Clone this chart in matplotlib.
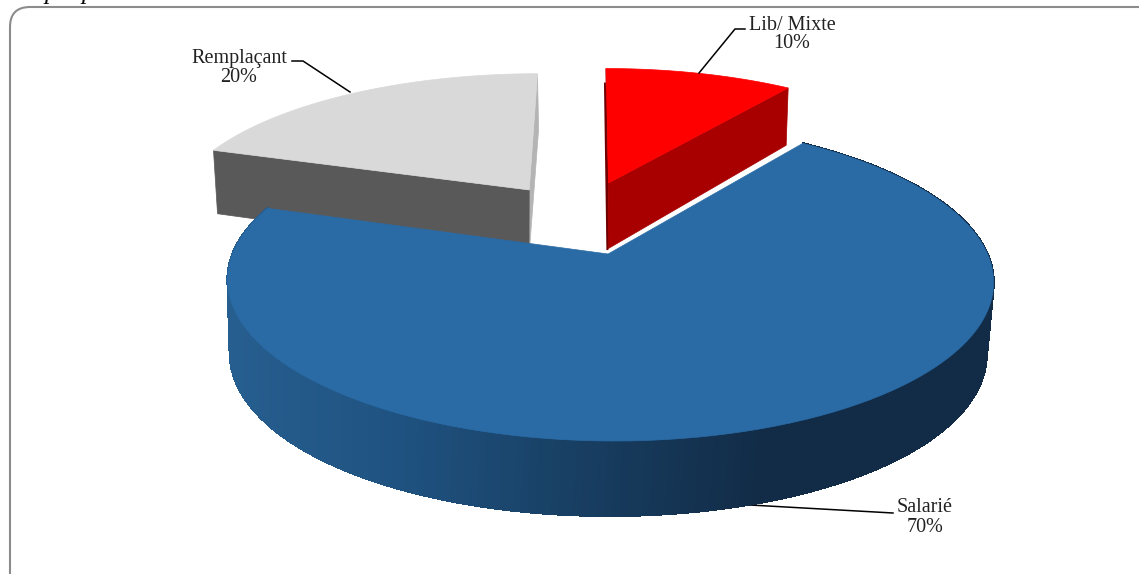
"""3D style exploded pie: statut d'exercice."""

import matplotlib
matplotlib.use("Agg")
import matplotlib.pyplot as plt
import numpy as np
from matplotlib.collections import PolyCollection
from matplotlib.patches import FancyBboxPatch, Polygon

# data
labels = ["Lib/ Mixte", "Salarié", "Remplaçant"]
values = [10, 70, 20]
percent_labels = ["10%", "70%", "20%"]

# style: face colour, outer wall colour, thin inner wall colour
top_colors = ["#FF0000", "#2A6BA6", "#D9D9D9"]
wall_colors = ["#A80000", None, "#595959"]
inner_colors = ["#700000", None, "#B4B4B4"]
explode = [(0.0, 0.495), (0.0, 0.0), (-0.226, 0.443)]

# projection of the unit disc to pixels (top plane, bottom plane)
TOP = dict(x0=610, y0=254, ax=377.5, by=155.4, k=0.169, ky=0.169, shear=-3.4)
LOW = dict(x0=608, y0=324.6, ax=373, by=163.5, k=0.169, ky=0.145, shear=-1.4)


def project(x, y, plane):
    w = 1 + plane["k"] * y
    wy = 1 + plane["ky"] * y
    return np.column_stack([plane["x0"] + (plane["ax"] * x + plane["shear"] * y) / w,
                            plane["y0"] - plane["by"] * y / wy])


def wall_color(px):
    stops_x = [235, 400, 600, 760]
    stops = np.array([[38, 94, 143], [31, 82, 128], [23, 60, 95], [18, 44, 71]]) / 255
    return [float(np.interp(px, stops_x, stops[:, i])) for i in range(3)]


def slice_outline(theta1, theta2, offset, plane, apex_shift=0.0):
    t = np.radians(np.linspace(theta1, theta2, 120))
    x = np.r_[offset[0] + apex_shift, np.cos(t) + offset[0]]
    y = np.r_[offset[1], np.sin(t) + offset[1]]
    return project(x, y, plane)


def edge_wall(theta, offset):
    x = np.array([offset[0], np.cos(np.radians(theta)) + offset[0]])
    y = np.array([offset[1], np.sin(np.radians(theta)) + offset[1]])
    a, b = project(x, y, TOP), project(x, y, LOW)
    return np.vstack([a, b[::-1]])


fig = plt.figure(figsize=(11.39, 5.74), dpi=100, facecolor="white")
ax = fig.add_axes([0, 0, 1, 1])
ax.set_xlim(0, 1139)
ax.set_ylim(574, 0)
ax.axis("off")

ax.add_patch(FancyBboxPatch((28, 25), 1120, 560, boxstyle="round,pad=18,rounding_size=20",
                            fc="white", ec="#8C8C8C", lw=1.5, zorder=0))

# slice angles, clockwise from 12 o'clock
ends = 90 - np.cumsum(values) * 360 / sum(values)
starts = np.r_[90, ends[:-1]]

# red slice: front wall on its end edge, gray slice: front wall on its start edge
for i, front_angle, inner_angle in [(2, starts[2], ends[2]), (0, ends[0], starts[0])]:
    off = explode[i]
    ax.add_patch(Polygon(edge_wall(inner_angle, off), fc=inner_colors[i], ec=inner_colors[i], lw=0.5, zorder=1))
    ax.add_patch(Polygon(edge_wall(front_angle, off), fc=wall_colors[i], ec=wall_colors[i], lw=0.5, zorder=2))
    ax.add_patch(Polygon(slice_outline(starts[i], ends[i], off, TOP), fc=top_colors[i], ec=top_colors[i],
                         lw=0.5, zorder=3))
    if i == 0:
        rim = project(np.array([off[0]]), np.array([1 + off[1]]), TOP)[0]
        foot = project(np.array([off[0]]), np.array([off[1]]), LOW)[0]
        ax.plot([rim[0] - 1, foot[0]], [rim[1] + 15, foot[1]], color=inner_colors[i], lw=1.4, zorder=4)

# big slice: wall made of narrow strips so the shade runs along the rim
t_edges = np.radians(np.linspace(starts[1], ends[1], 260))
top_rim = project(np.cos(t_edges), np.sin(t_edges), TOP)
low_rim = project(np.cos(t_edges), np.sin(t_edges), LOW)
strips, shades = [], []
for j in range(len(t_edges) - 1):
    strips.append([top_rim[j], top_rim[j + 1], low_rim[j + 1], low_rim[j]])
    shades.append(wall_color(top_rim[j:j + 2, 0].mean()))
ax.add_collection(PolyCollection(strips, facecolors=shades, edgecolors=shades, linewidths=1.0,
                                 antialiaseds=False, zorder=5))
ax.add_patch(Polygon(slice_outline(starts[1], ends[1], explode[1], TOP, apex_shift=-0.005),
                     fc=top_colors[1], ec=top_colors[1], lw=0.5, zorder=6))

# leader lines
leaders = [
    ([745, 735, 699], [29, 29, 73]),
    ([893, 750], [513, 505]),
    ([292, 303, 350], [61, 61, 92]),
]
for xs, ys in leaders:
    ax.plot(xs, ys, color="black", lw=1.1, zorder=4, solid_joinstyle="miter")

label_pos = [(792, 25), (925, 508), (239, 58)]
serif = ["Liberation Serif", "DejaVu Serif"]
for name, pct, (lx, ly) in zip(labels, percent_labels, label_pos):
    ax.text(lx, ly, name, ha="center", va="center", fontsize=14.5, family=serif, color="#222222", zorder=8)
    ax.text(lx, ly + 19, pct, ha="center", va="center", fontsize=14.5, family=serif, color="#222222", zorder=8)

# cropped caption above the frame, only the descenders are left
for cx in [51, 88]:
    ax.text(cx, -1, "p", ha="center", va="baseline", fontsize=18, style="italic", family=serif, color="black")

fig.savefig("out.png", dpi=100)
